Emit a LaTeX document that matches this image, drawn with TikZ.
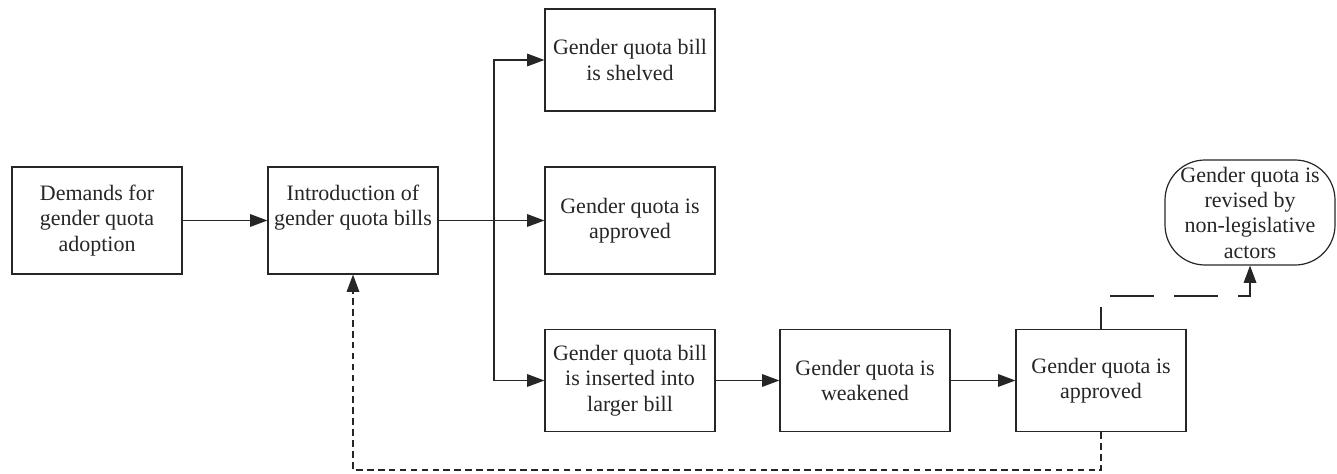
\documentclass[tikz,border=0pt]{standalone}
\usepackage{fontspec}
\setmainfont{Liberation Serif}
\usetikzlibrary{arrows.meta}
\begin{document}
\begin{tikzpicture}[x=0.75pt,y=-0.75pt,
  box/.style={draw=black!85, line width=0.9pt, minimum width=127.5pt, align=center,
    font=\fontsize{16.5pt}{19pt}\selectfont, text=black!85, inner sep=0pt},
  tall/.style={minimum height=80.25pt},
  short/.style={minimum height=76.5pt},
  rbox/.style={box, rounded corners=30pt, minimum height=78.75pt},
  conn/.style={draw=black!85, line width=0.9pt},
  arr/.style={conn, -{Triangle[length=13pt,width=9.5pt]}},
  fbdash/.style={dash pattern=on 5pt off 3.2pt},
]
\useasboundingbox (0,0) rectangle (1337,474);
\node[box,tall] (dem) at (97,220.5) {Demands for\\gender quota\\adoption};
\node[box,tall] (intro) at (353,220.5) {Introduction of\\gender quota bills\\[4pt]};
\node[box,short] (shelved) at (630,60) {Gender quota bill\\is shelved};
\node[box,tall] (app1) at (630,220.5) {Gender quota is\\approved};
\node[box,short] (ins) at (630,380.5) {Gender quota bill\\is inserted into\\larger bill};
\node[box,short] (weak) at (865,380.5) {Gender quota is\\weakened};
\node[box,short] (app2) at (1101,380.5) {Gender quota is\\approved};
\node[rbox] (rev) at (1250,212.5) {Gender quota is\\revised by\\non-legislative\\actors};

\coordinate (br) at (494,220.5);
\coordinate (brt) at (494,60);
\coordinate (brb) at (494,380.5);
\coordinate (fb) at (1101,470);
\coordinate (up) at (1101,296);

\draw[arr] (dem) -- (intro);
\draw[conn] (intro.east) -- (br);
\draw[arr] (br) -- (app1.west);
\draw[arr] (br) -- (brt) -- (shelved.west);
\draw[arr] (br) -- (brb) -- (ins.west);
\draw[arr] (ins) -- (weak);
\draw[arr] (weak) -- (app2);
\draw[arr, fbdash] (app2.south) -- (fb) -| (intro.south);
\draw[arr, dash pattern=on 33pt off 15pt, dash phase=16.5pt] (app2.north) -- (up) -| (rev.south);
\end{tikzpicture}
\end{document}
